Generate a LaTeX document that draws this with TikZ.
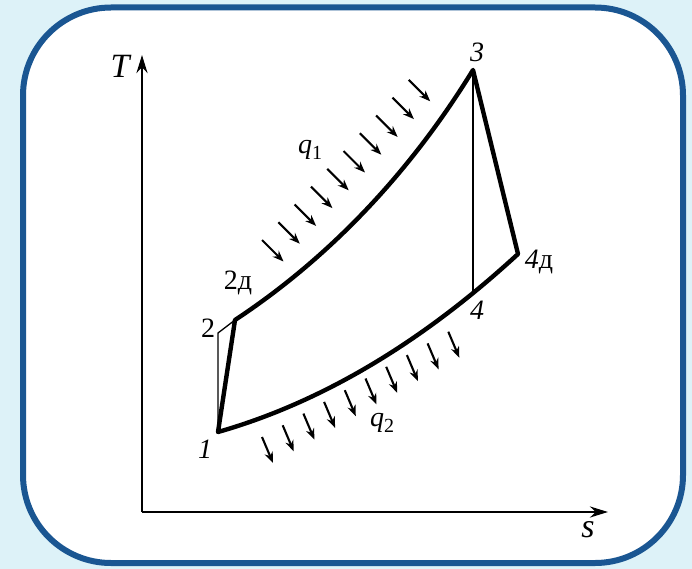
\documentclass[tikz,border=0pt]{standalone}
\usepackage{fontspec}
\setmainfont{Liberation Serif}
\usetikzlibrary{arrows.meta}
\definecolor{panelbg}{RGB}{221,242,248}
\definecolor{panelframe}{RGB}{26,86,146}
\newcommand{\qlabel}[1]{\textit{q}\raisebox{-6pt}{\fontsize{20}{20}\selectfont #1}}

\begin{document}
\begin{tikzpicture}[x=1pt, y=-1pt, line join=round, line cap=round,
  every node/.style={font=\fontsize{28}{30}\selectfont, inner sep=0pt},
  cyc/.style={line width=4.4pt},
  aux/.style={line width=1.3pt},
  heat/.style={line width=2.1pt, line cap=butt, -{Stealth[length=11pt,width=8.5pt]}},
  axis/.style={line width=2.6pt, line cap=butt, -{Stealth[length=18pt,width=11pt]}}]
  \useasboundingbox (0,0) rectangle (692,569);
  \fill[panelbg] (0,0) rectangle (692,569);
  \draw[panelframe, fill=white, line width=6pt, rounded corners=88pt] (23,7.5) rectangle (683,563);
  % axes
  \coordinate (O) at (142,512);
  \coordinate (Ttop) at (142,55);
  \coordinate (send) at (608,512);
  \draw[axis] (O) -- (Ttop);
  \draw[axis] (O) -- (send);
  \node (lblT) at (121,66) {\fontsize{34}{36}\selectfont\textit{T}};
  \node (lbls) at (588,530) {\fontsize{34}{36}\selectfont\textit{s}};
  % cycle points
  \coordinate (1) at (218,432);
  \coordinate (2) at (218,333);
  \coordinate (2d) at (235,320);
  \coordinate (3) at (473,70);
  \coordinate (4d) at (518,254);
  \draw[cyc] (1) -- (2d) .. controls (326,260) and (408,176) .. (3) -- (4d)
    .. controls (430,335) and (330,400) .. (1) coordinate[pos=0.165] (4) -- cycle;
  \draw[aux] (1) -- (2) -- (2d);
  \draw[aux] (3) -- (3 |- 4);
  \node (lbl1) at (205,449) {\textit{1}};
  \node (lbl2) at (208,328) {2};
  \node (lbl2d) at (238,283) {2д};
  \node (lbl3) at (477,52) {\textit{3}};
  \node (lbl4) at (477,310) {\textit{4}};
  \node (lbl4d) at (539,262) {\textit{4}д};
  % heat in and out
  \foreach \i in {0,...,9}
    \draw[heat] (262+16.3*\i, 240-17.8*\i) -- ++(21.5,21.5);
  \foreach \i in {0,...,9}
    \draw[heat] (262+20.7*\i, 437-11.7*\i) -- ++(11,26);
  \node (lblq1) at (310,150) {\qlabel{1}};
  \node (lblq2) at (382,423) {\qlabel{2}};
\end{tikzpicture}
\end{document}
